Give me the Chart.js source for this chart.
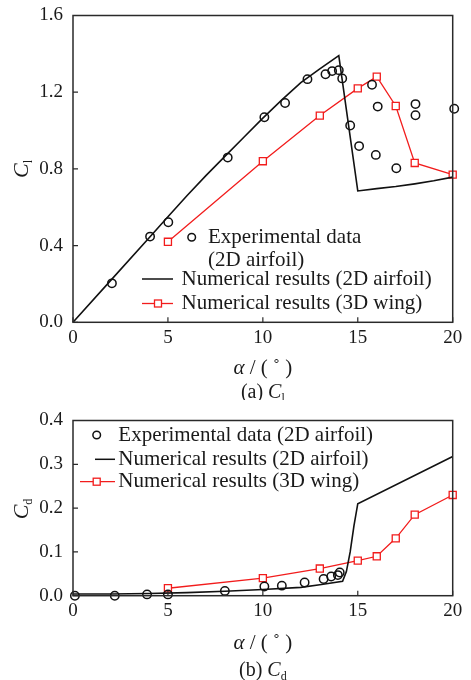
<!DOCTYPE html>
<html>
<head>
<meta charset="utf-8">
<script src="https://cdn.jsdelivr.net/npm/chart.js@4/dist/chart.umd.min.js"></script>
<style>
  body { margin: 0; background: #fff; }
  #wrap { position: relative; width: 471px; height: 680px; }
  canvas { position: absolute; left: 0; }
  #clChart { top: 0; }
  #cdChart { top: 400px; }
</style>
</head>
<body>
<div id="wrap">
  <canvas id="clChart" width="471" height="400"></canvas>
  <canvas id="cdChart" width="471" height="280"></canvas>
</div>
<script>
// lift coefficient, experiment (2D airfoil)
const expClAlpha = [2.05, 4.06, 5.02, 8.15, 10.08, 11.17, 12.35, 13.3, 13.65, 14.0, 14.18, 14.6, 15.07, 15.75, 15.95, 16.05, 17.03, 18.04, 18.04, 20.08]
const expCl = [0.203, 0.447, 0.522, 0.859, 1.069, 1.144, 1.268, 1.294, 1.31, 1.315, 1.272, 1.026, 0.919, 1.239, 0.873, 1.125, 0.803, 1.138, 1.08, 1.114]

// lift coefficient, numerical 2D airfoil
const num2dClAlpha = [0, 2, 4, 5, 6, 7, 8, 9, 10, 11, 12, 13, 14, 15, 16, 17, 18, 19, 20]
const num2dCl = [0, 0.22, 0.44, 0.55, 0.66, 0.765, 0.865, 0.965, 1.065, 1.16, 1.25, 1.322, 1.391, 0.685, 0.697, 0.708, 0.722, 0.738, 0.757]

// lift coefficient, numerical 3D wing
const num3dAlpha = [5, 10, 13, 15, 16, 17, 18, 20]
const num3dCl = [0.42, 0.84, 1.078, 1.22, 1.281, 1.128, 0.831, 0.77]

// drag coefficient, experiment (2D airfoil)
const expCdAlpha = [0.1, 2.2, 3.9, 5.0, 8.0, 10.08, 11.0, 12.2, 13.2, 13.6, 13.95, 14.05]
const expCd = [0.0, 0.0, 0.003, 0.003, 0.011, 0.021, 0.023, 0.03, 0.038, 0.044, 0.047, 0.053]

// drag coefficient, numerical 2D airfoil
const num2dCdAlpha = [0, 2, 4, 6, 8, 10, 12, 13, 14.2, 14.4, 14.6, 14.8, 15, 20]
const num2dCd = [0.004, 0.004, 0.005, 0.007, 0.01, 0.014, 0.019, 0.025, 0.033, 0.055, 0.1, 0.16, 0.21, 0.318]

// drag coefficient, numerical 3D wing (same angles as lift)
const num3dCd = [0.017, 0.04, 0.062, 0.08, 0.09, 0.131, 0.185, 0.23]

const xTicks = [0, 5, 10, 15, 20]
const clTicks = [0, 0.4, 0.8, 1.2, 1.6]
const cdTicks = [0, 0.1, 0.2, 0.3, 0.4]

const SERIF = '"Liberation Serif", "Times New Roman", serif'
const RED = '#f21c1c'

const pts = (xs, ys) => xs.map((x, i) => ({ x: x, y: ys[i] }))

// draws a run of text pieces (regular / italic / subscript) starting at x
function drawRuns(ctx, runs, x, y, align) {
    let total = 0
    runs.forEach(r => { ctx.font = r.font; total += ctx.measureText(r.text).width })
    let cx = align === 'center' ? x - total / 2 : x
    runs.forEach(r => {
        ctx.font = r.font
        ctx.fillText(r.text, cx, y + (r.dy || 0))
        cx += ctx.measureText(r.text).width
    })
}

// frame, inward ticks, axis titles and legend
function decorPlugin(cfg) {
    return {
        id: 'decor',
        afterDraw(chart) {
            const ctx = chart.ctx
            const a = chart.chartArea
            const xs = chart.scales.x
            const ys = chart.scales.y
            ctx.save()
            ctx.strokeStyle = '#2a2a2a'
            ctx.lineWidth = 1.5
            ctx.strokeRect(a.left, a.top, a.right - a.left, a.bottom - a.top)

            ctx.lineWidth = 1.2
            ctx.beginPath()
            xTicks.forEach(v => {
                const px = xs.getPixelForValue(v)
                ctx.moveTo(px, a.bottom)
                ctx.lineTo(px, a.bottom - 5)
            })
            cfg.yTicks.forEach(v => {
                const py = ys.getPixelForValue(v)
                ctx.moveTo(a.left, py)
                ctx.lineTo(a.left + 5, py)
            })
            ctx.stroke()

            ctx.fillStyle = '#1a1a1a'
            ctx.textBaseline = 'alphabetic'
            ctx.textAlign = 'left'
            const mid = (a.left + a.right) / 2

            // y title, rotated
            ctx.save()
            ctx.translate(cfg.yTitleX, cfg.yTitleY)
            ctx.rotate(-Math.PI / 2)
            drawRuns(ctx, [
                { text: 'C', font: 'italic 22px ' + SERIF },
                { text: cfg.sub, font: '12px ' + SERIF, dy: 4 }
            ], 0, 8, 'center')
            ctx.restore()

            drawRuns(ctx, [
                { text: 'α', font: 'italic 21px ' + SERIF },
                { text: ' / ( ˚ )', font: '21px ' + SERIF }
            ], mid, cfg.xTitleY, 'center')

            drawRuns(ctx, [
                { text: cfg.tag + ' ', font: '20px ' + SERIF },
                { text: 'C', font: 'italic 20px ' + SERIF },
                { text: cfg.sub, font: '12px ' + SERIF, dy: 4 }
            ], mid, cfg.captionY, 'center')

            // legend
            const lg = cfg.legend
            ctx.font = '21px ' + SERIF
            ctx.textBaseline = 'middle'
            ctx.strokeStyle = '#111'
            ctx.lineWidth = 1.5
            ctx.beginPath()
            ctx.arc(lg.circle[0], lg.circle[1], 3.8, 0, Math.PI * 2)
            ctx.stroke()
            lg.expText.forEach(t => ctx.fillText(t[0], t[1], t[2]))

            ctx.beginPath()
            ctx.moveTo(lg.black[0], lg.black[2])
            ctx.lineTo(lg.black[1], lg.black[2])
            ctx.stroke()
            ctx.fillText('Numerical results (2D airfoil)', lg.textX, lg.black[2])

            ctx.strokeStyle = RED
            ctx.lineWidth = 1.3
            ctx.beginPath()
            ctx.moveTo(lg.red[0], lg.red[2])
            ctx.lineTo(lg.red[1], lg.red[2])
            ctx.stroke()
            ctx.fillStyle = '#fff'
            ctx.fillRect(lg.sq - 3.5, lg.red[2] - 3.5, 7, 7)
            ctx.strokeRect(lg.sq - 3.5, lg.red[2] - 3.5, 7, 7)
            ctx.fillStyle = '#1a1a1a'
            ctx.fillText('Numerical results (3D wing)', lg.textX, lg.red[2])
            ctx.restore()
        }
    }
}

function makeChart(id, cfg) {
    const datasets = [
        {
            data: pts(cfg.exp[0], cfg.exp[1]),
            showLine: false,
            pointStyle: 'circle',
            pointRadius: 4.2,
            borderColor: '#111',
            backgroundColor: 'rgba(0,0,0,0)',
            pointBorderWidth: 1.5,
            clip: false
        },
        {
            data: pts(cfg.num2d[0], cfg.num2d[1]),
            showLine: true,
            pointRadius: 0,
            borderColor: '#111',
            borderWidth: 1.6,
            clip: false
        },
        {
            data: pts(num3dAlpha, cfg.num3d),
            showLine: true,
            pointStyle: 'rect',
            pointRadius: 5,
            borderColor: RED,
            borderWidth: 1.3,
            backgroundColor: '#fff',
            pointBorderWidth: 1.3,
            clip: false
        }
    ]

    // keep the plot box where the padding puts it, labels may overhang
    const noOverhang = s => {
        s.paddingTop = 0
        s.paddingBottom = 0
        s.paddingLeft = 0
        s.paddingRight = 0
    }

    return new Chart(document.getElementById(id), {
        type: 'scatter',
        data: { datasets: datasets },
        options: {
            responsive: false,
            animation: false,
            devicePixelRatio: 1,
            layout: { padding: { top: cfg.padTop, right: 18.3, left: 0, bottom: 0 } },
            plugins: { legend: { display: false }, tooltip: { enabled: false } },
            scales: {
                x: {
                    type: 'linear',
                    min: 0, max: 20,
                    afterBuildTicks: s => { s.ticks = xTicks.map(v => ({ value: v })) },
                    afterFit: s => { s.height = cfg.xAxisH; noOverhang(s) },
                    grid: { display: false, drawTicks: false },
                    border: { display: false },
                    ticks: {
                        color: '#1a1a1a',
                        font: { family: SERIF, size: 19 },
                        padding: 4,
                        maxRotation: 0
                    }
                },
                y: {
                    type: 'linear',
                    min: cfg.yTicks[0], max: cfg.yTicks[cfg.yTicks.length - 1],
                    afterBuildTicks: s => { s.ticks = cfg.yTicks.map(v => ({ value: v })) },
                    afterFit: s => { s.width = 73; noOverhang(s) },
                    grid: { display: false, drawTicks: false },
                    border: { display: false },
                    ticks: {
                        color: '#1a1a1a',
                        font: { family: SERIF, size: 19 },
                        padding: 10,
                        callback: v => v.toFixed(1)
                    }
                }
            }
        },
        plugins: [decorPlugin(cfg)]
    })
}

makeChart('clChart', {
    exp: [expClAlpha, expCl],
    num2d: [num2dClAlpha, num2dCl],
    num3d: num3dCl,
    yTicks: clTicks,
    padTop: 15.5,
    xAxisH: 400 - 322.3,
    sub: 'l', tag: '(a)',
    yTitleX: 20, yTitleY: 169,
    xTitleY: 374, captionY: 398,
    legend: {
        circle: [191.7, 237.3],
        expText: [['Experimental data', 208, 237.5], ['(2D airfoil)', 208, 260.5]],
        black: [142, 173, 279],
        red: [142, 173, 303.5],
        sq: 158,
        textX: 181.5
    }
})

makeChart('cdChart', {
    exp: [expCdAlpha, expCd],
    num2d: [num2dCdAlpha, num2dCd],
    num3d: num3dCd,
    yTicks: cdTicks,
    padTop: 20.5,
    xAxisH: 280 - 195.7,
    sub: 'd', tag: '(b)',
    yTitleX: 20, yTitleY: 109,
    xTitleY: 249, captionY: 276,
    legend: {
        circle: [96.7, 35],
        expText: [['Experimental data (2D airfoil)', 118.3, 35.5]],
        black: [95, 115, 59.3],
        red: [80, 115, 81.7],
        sq: 96.7,
        textX: 118.3
    }
})
</script>
</body>
</html>
